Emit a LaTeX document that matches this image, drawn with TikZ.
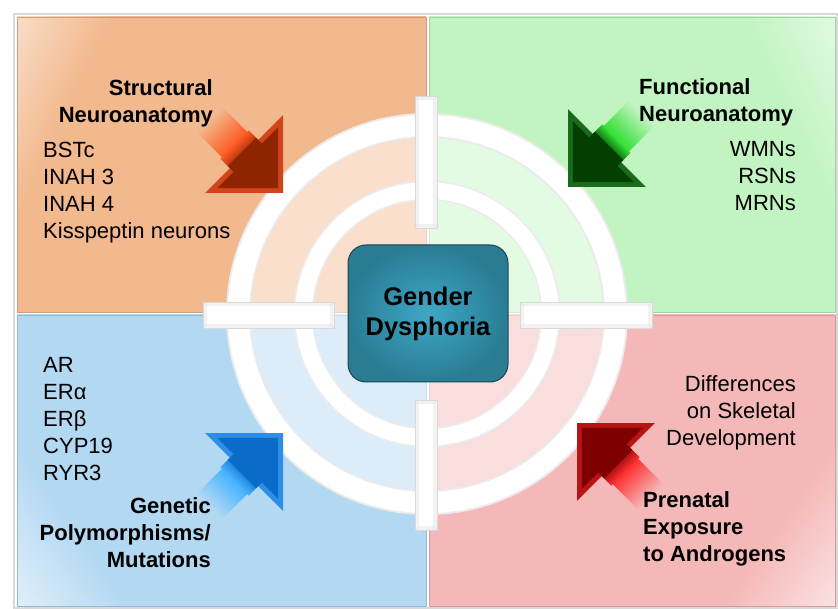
\documentclass[tikz,border=0pt]{standalone}
\usepackage{fontspec}
\setmainfont{Liberation Sans}
\usetikzlibrary{fadings, calc}

\definecolor{quadTL}{HTML}{F2B98E}
\definecolor{quadTR}{HTML}{C2F4C2}
\definecolor{quadBL}{HTML}{B3D8F2}
\definecolor{quadBR}{HTML}{F5B8B8}
\definecolor{boxin}{HTML}{3DA8C6}
\definecolor{boxout}{HTML}{2A7C93}
\definecolor{boxline}{HTML}{1D4452}
% arrow colours: body, bevel, glow
\definecolor{tlbody}{HTML}{8E2400}\definecolor{tlbevel}{HTML}{D0461A}\definecolor{tlglow}{HTML}{FF5A22}
\definecolor{trbody}{HTML}{033F03}\definecolor{trbevel}{HTML}{1C6A1C}\definecolor{trglow}{HTML}{33E033}
\definecolor{blbody}{HTML}{0A6CC8}\definecolor{blbevel}{HTML}{2E8EE6}\definecolor{blglow}{HTML}{45B4FF}
\definecolor{brbody}{HTML}{7E0000}\definecolor{brbevel}{HTML}{B81414}\definecolor{brglow}{HTML}{FF3030}

\pgfdeclarehorizontalshading{glareTL}{100bp}{color(0bp)=(white); color(6bp)=(white); color(28bp)=(quadTL); color(100bp)=(quadTL)}
\pgfdeclarehorizontalshading{glareTR}{100bp}{color(0bp)=(white); color(6bp)=(white); color(28bp)=(quadTR); color(100bp)=(quadTR)}
\pgfdeclarehorizontalshading{glareBL}{100bp}{color(0bp)=(white); color(6bp)=(white); color(28bp)=(quadBL); color(100bp)=(quadBL)}
\pgfdeclarehorizontalshading{glareBR}{100bp}{color(0bp)=(white); color(6bp)=(white); color(28bp)=(quadBR); color(100bp)=(quadBR)}

\tikzfading[name=glowfade, left color=transparent!100, right color=transparent!0]

% arrow with glowing tail: tip x, tip y, angle, colour prefix
\newcommand{\glowarrow}[4]{%
  \begin{scope}[transform canvas={shift={(#1,#2)}, rotate=#3}]
    \fill[#4glow, path fading=glowfade] (-104,-18) rectangle (-68,18);
    \shade[left color=#4glow, right color=#4body] (-68.5,-20) rectangle (-52,20);
    \fill[#4bevel] (0,0) -- (-55,55) -- (-55,-55) -- cycle;
    \fill[#4body] (-7,0) -- (-50,43) -- (-50,-43) -- cycle;
    \fill[#4body] (-58,-20) rectangle (-48,20);
  \end{scope}}

% white bevelled bar: x1, y1, x2, y2
\newcommand{\bevelbar}[4]{%
  \fill[gray!10] (#1,#2) rectangle (#3,#4);
  \fill[white] ($(#1,#2)+(4,4)$) rectangle ($(#3,#4)+(-4,-4)$);
  \draw[gray!25, line width=0.4pt] (#1,#2) -- ($(#1,#2)+(4,4)$) (#3,#2) -- ($(#3,#2)+(-4,4)$)
        (#1,#4) -- ($(#1,#4)+(4,-4)$) (#3,#4) -- ($(#3,#4)+(-4,-4)$);
  \draw[gray!30, line width=0.6pt] (#1,#2) rectangle (#3,#4);}

\begin{document}
\begin{tikzpicture}[
    x=1pt, y=-1pt,
    ring/.style={draw=gray!15, line width=25pt},
    ringtop/.style={draw=white, line width=21pt},
    label/.style={inner sep=0pt, font=\fontsize{22}{27}\selectfont},
    head/.style={label, font=\fontsize{22}{27}\selectfont\bfseries},
    gbox/.style={rounded corners=18pt, draw=boxline, line width=1pt,
                 inner color=boxin, outer color=boxout,
                 minimum width=160pt, minimum height=137pt, align=center,
                 font=\fontsize{25.5}{30}\selectfont\bfseries}
  ]
  \useasboundingbox (0,0) rectangle (838,609);

  % frame
  \draw[gray!30, line width=1.2pt, fill=white] (14,14) rectangle (837,608);

  % quadrants
  \shadedraw[shading=glareTL, shading angle=-25, draw=quadTL!85!black, line width=0.8pt] (17,17) rectangle (426,312);
  \shadedraw[shading=glareTR, shading angle=205, draw=quadTR!85!black, line width=0.8pt] (429,17) rectangle (835,312);
  \shadedraw[shading=glareBL, shading angle=35, draw=quadBL!85!black, line width=0.8pt] (17,315) rectangle (426,606);
  \shadedraw[shading=glareBR, shading angle=145, draw=quadBR!85!black, line width=0.8pt] (429,315) rectangle (835,606);

  % target
  \fill[white, opacity=0.55] (427,314) circle (176);
  \draw[ring] (427,314) circle (188.5);
  \draw[ringtop] (427,314) circle (188.5);
  \draw[ring, line width=20pt] (427,314) circle (123.5);
  \draw[ringtop, line width=16.5pt] (427,314) circle (123.5);

  % cross bars
  \bevelbar{415}{96}{437}{228}
  \bevelbar{415}{400}{437}{530}
  \bevelbar{203}{302}{334}{328}
  \bevelbar{520}{302}{652}{328}

  % centre
  \node[gbox] (gd) at (428,313.5) {Gender\\Dysphoria};

  % arrows
  \glowarrow{283}{193}{-45}{tl}
  \glowarrow{568}{187}{-135}{tr}
  \glowarrow{283}{433}{45}{bl}
  \glowarrow{577}{423}{135}{br}

  % texts (anchor on last baseline)
  \node[head, anchor=base east, align=right] (tlhead) at (213,123) {Structural\\Neuroanatomy};
  \node[label, anchor=base west, align=left] (tllist) at (43,239) {BSTc\\INAH 3\\INAH 4\\Kisspeptin neurons};
  \node[head, anchor=base west, align=left] (trhead) at (639,122) {Functional\\Neuroanatomy};
  \node[label, anchor=base east, align=right] (trlist) at (796,211) {WMNs\\RSNs\\MRNs};
  \node[label, anchor=base west, align=left] (bllist) at (43,480) {AR\\ERα\\ERβ\\CYP19\\RYR3};
  \node[head, anchor=base east, align=right] (blhead) at (211,567) {Genetic\\Polymorphisms/\\Mutations};
  \node[label, anchor=base east, align=right] (brlist) at (796,445) {Differences\\on Skeletal\\Development};
  \node[head, anchor=base west, align=left] (brhead) at (643,561) {Prenatal\\Exposure\\to Androgens};
\end{tikzpicture}
\end{document}
